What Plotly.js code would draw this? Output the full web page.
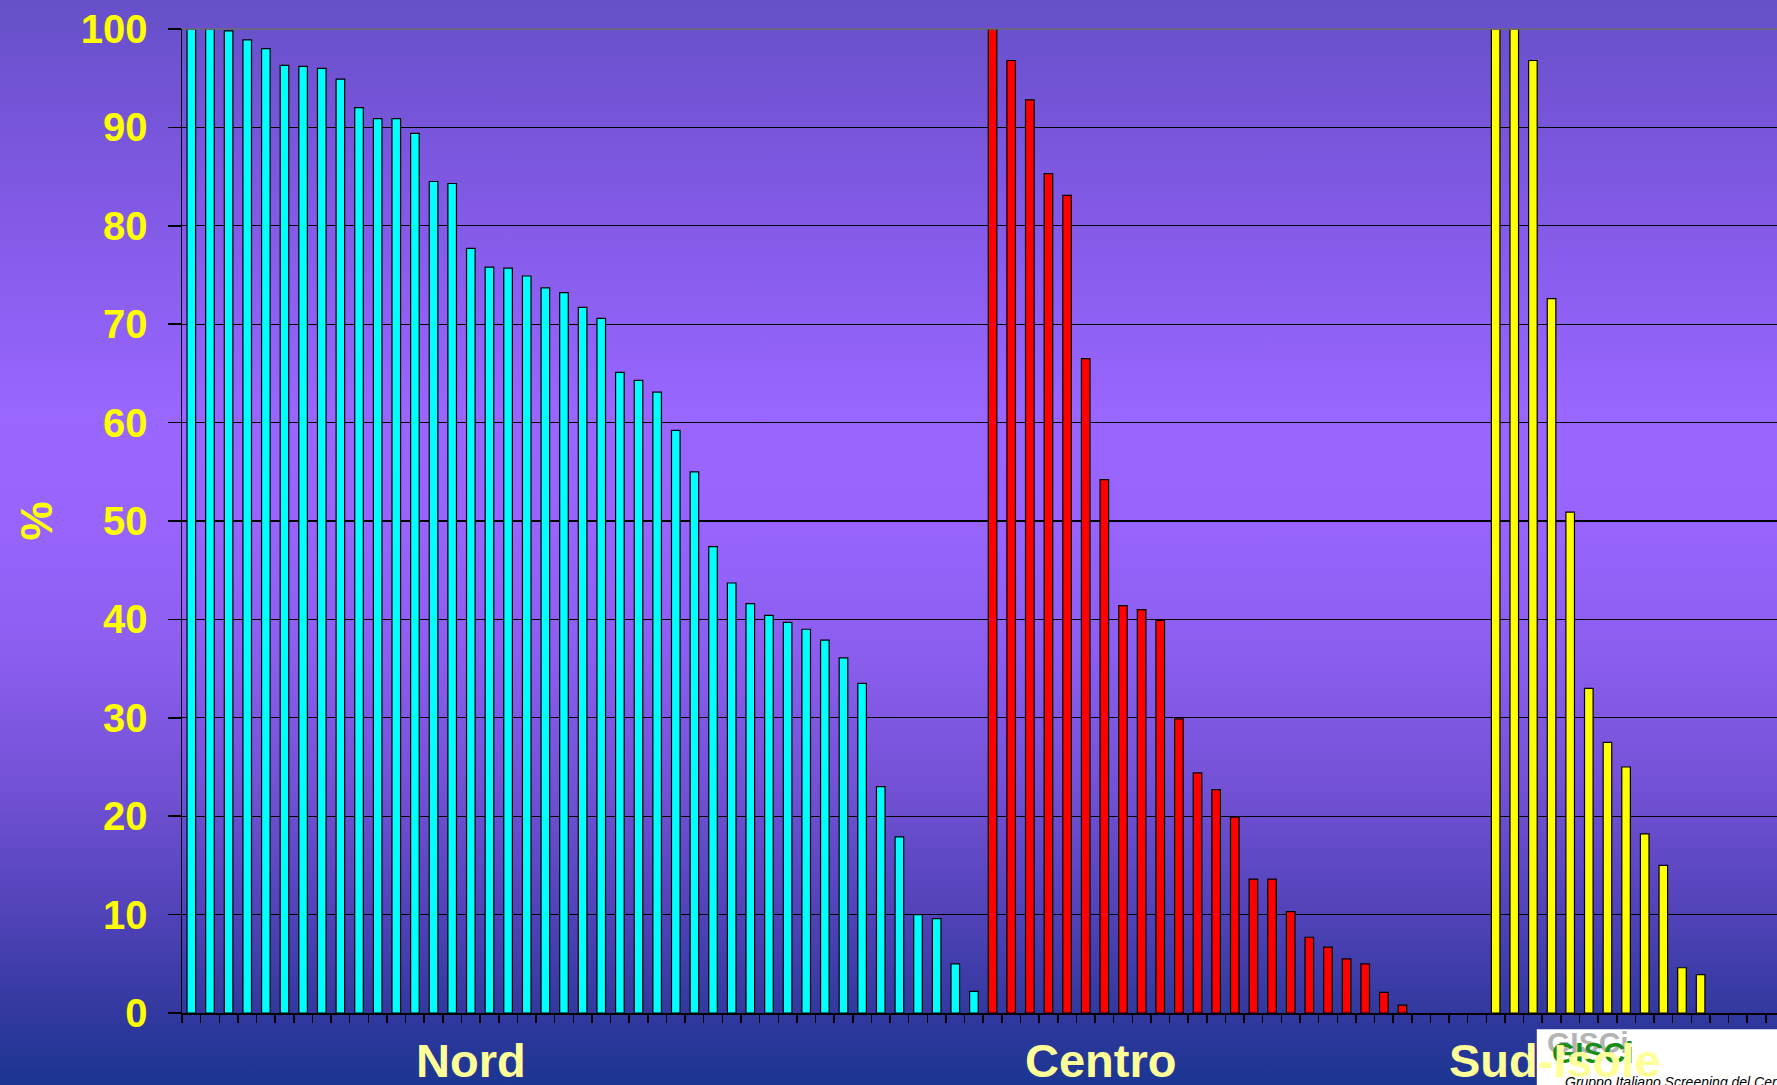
<!DOCTYPE html>
<html><head><meta charset="utf-8">
<script src="https://cdn.plot.ly/plotly-3.0.1.min.js"></script>
<style>
html,body{margin:0;padding:0;width:1777px;height:1085px;overflow:hidden;
background:linear-gradient(to bottom,#6650c8 0%,#7f58e2 17%,#9966ff 38%,#9864fd 48%,#8c5eef 60%,#7452d6 72%,#5544bc 83%,#33399f 93%,#1b3592 100%);}
#chart{width:1777px;height:1085px;}
</style></head><body><div id="chart"></div>
<script>
// Values (%)
const nord = [100, 100, 99.8, 98.9, 98.0, 96.3, 96.2, 96.0, 94.9, 92.0, 90.9, 90.9, 89.4, 84.5, 84.3,
  77.7, 75.8, 75.7, 74.9, 73.7, 73.2, 71.7, 70.6, 65.1, 64.3, 63.1, 59.2, 55.0, 47.4, 43.7,
  41.6, 40.4, 39.7, 39.0, 37.9, 36.1, 33.5, 23.0, 17.9, 10.0, 9.6, 5.0, 2.2];
const centro = [100, 96.8, 92.8, 85.3, 83.1, 66.5, 54.2, 41.4, 41.0, 39.9, 29.9, 24.4, 22.7, 19.9,
  13.6, 13.6, 10.3, 7.7, 6.7, 5.5, 5.0, 2.1, 0.8];
const sudIsole = [100, 100, 96.8, 72.6, 50.9, 33.0, 27.5, 25.0, 18.2, 15.0, 4.6, 3.9];
const groupLabels = ["Nord", "Centro", "Sud-Isole"];
const yTickVals = [0, 10, 20, 30, 40, 50, 60, 70, 80, 90, 100];
const yTickText = ["0", "10", "20", "30", "40", "50", "60", "70", "80", "90", "100"];
const emptySlotsBeforeSud = 4;

const nordX = nord.map((_, i) => i);
const centroX = centro.map((_, i) => nord.length + i);
const sudX = sudIsole.map((_, i) => nord.length + centro.length + emptySlotsBeforeSud + i);

const barLine = {color: "#000000", width: 1.2};
const traces = [
  {type: "bar", x: nordX, y: nord, name: groupLabels[0], width: 0.46,
   marker: {color: "#00ffff", line: barLine}, hoverinfo: "y"},
  {type: "bar", x: centroX, y: centro, name: groupLabels[1], width: 0.46,
   marker: {color: "#ff0000", line: barLine}, hoverinfo: "y"},
  {type: "bar", x: sudX, y: sudIsole, name: groupLabels[2], width: 0.46,
   marker: {color: "#ffff00", line: barLine}, hoverinfo: "y"}
];

const labelFont = {family: "Liberation Sans, Arial, sans-serif", size: 47, color: "#ffff99", weight: "bold"};
const groupLabelX = [15, 48.8, 73.2];

const layout = {
  width: 1777, height: 1085,
  margin: {l: 182, r: 0, t: 29, b: 72, pad: 0},
  paper_bgcolor: "rgba(0,0,0,0)",
  plot_bgcolor: "rgba(0,0,0,0)",
  showlegend: false,
  barmode: "overlay",
  font: {family: "Liberation Sans, Arial, sans-serif"},
  xaxis: {
    type: "linear", range: [-0.5, 85.1],
    showgrid: false, zeroline: false,
    showline: true, linecolor: "#000000", linewidth: 2,
    ticks: "outside", tick0: -0.5, dtick: 1, ticklen: 8, tickwidth: 1.5, tickcolor: "#000000",
    showticklabels: false, fixedrange: true
  },
  yaxis: {
    range: [0, 100], tickvals: yTickVals, ticktext: yTickText,
    showgrid: true, gridcolor: "#000000", gridwidth: 1.2,
    zeroline: false,
    showline: true, linecolor: "#000000", linewidth: 1.5,
    ticks: "outside", ticklen: 13, tickwidth: 1.5, tickcolor: "#000000",
    ticklabelstandoff: 12,
    tickfont: {family: "Liberation Sans, Arial, sans-serif", size: 40, color: "#ffff00", weight: "bold"},
    title: {text: "%", standoff: 14,
            font: {family: "Liberation Sans, Arial, sans-serif", size: 44, color: "#ffff00", weight: "bold"}},
    fixedrange: true
  },
  shapes: [
    {type: "line", xref: "paper", yref: "paper", x0: 0, x1: 1, y0: 1, y1: 1,
     line: {color: "#6e6e6e", width: 1.5}},
    {type: "rect", xref: "paper", yref: "paper", x0: 0.8494, x1: 1.01, y0: -0.0166, y1: -0.09,
     fillcolor: "#ffffff", line: {width: 0}}
  ],
  annotations: [
    {xref: "paper", yref: "paper", x: 0.8812, y: -0.0301, xanchor: "center", yanchor: "middle",
     text: "GISCi", showarrow: false,
     font: {family: "Liberation Sans, Arial, sans-serif", size: 30, color: "#b4b4b4", weight: "bold"}},
    {xref: "paper", yref: "paper", x: 0.8846, y: -0.0402, xanchor: "center", yanchor: "middle",
     text: "GISCi", showarrow: false,
     font: {family: "Liberation Sans, Arial, sans-serif", size: 30, color: "#1a8c1a", weight: "bold"}},
    {xref: "paper", yref: "paper", x: 0.8658, y: -0.0703, xanchor: "left", yanchor: "middle",
     text: "<i>Gruppo Italiano Screening del Cervicocarcinoma</i>", showarrow: false,
     font: {family: "Liberation Sans, Arial, sans-serif", size: 14, color: "#000000"}},
    ...groupLabels.map((t, i) => ({
      xref: "x", yref: "paper", x: groupLabelX[i], y: -0.0485, xanchor: "center", yanchor: "middle",
      text: t, showarrow: false, font: labelFont
    }))
  ]
};

Plotly.newPlot("chart", traces, layout, {displayModeBar: false, staticPlot: true});
</script>
</body></html>
